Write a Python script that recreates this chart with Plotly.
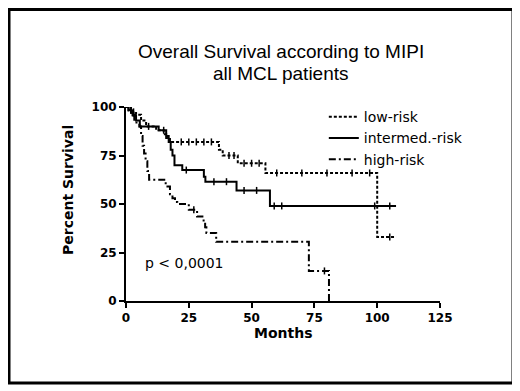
import plotly.graph_objects as go

# ---- data ----
low_t = [0, 2, 4, 6, 8, 12, 15, 16, 17.5, 37, 38.5, 44.5, 55.5, 100, 107.5]
low_s = [100, 97.5, 96, 93, 90, 88, 86, 84, 82, 78, 75, 71, 66, 33, 33]

int_t = [0, 1, 2, 3, 4, 5.5, 13, 16, 17, 17.8, 18.5, 19.3, 22.4, 31, 31.6, 44, 57.3, 107.5]
int_s = [100, 98.5, 97, 95.5, 93, 90, 88, 85, 82, 78, 75, 70, 67.5, 64, 61.5, 57, 49, 49]

hi_t = [0, 1, 3.3, 5.3, 6, 6.6, 7.2, 7.8, 8.5, 9.2, 15.8, 17.5, 18.5, 19.5, 20.4, 25, 28.3, 30.9,
        31.5, 32, 35.9, 72.8, 80.8]
hi_s = [100, 97, 92, 90, 85, 80, 76, 72, 67, 62.5, 59, 55, 53, 51, 50, 47, 43.5, 40.8,
        38, 35, 30.5, 15.5, 0]

low_cens_t = [3, 22, 25, 28, 31, 34, 41, 43, 47, 50, 53, 60, 70, 80, 90, 97, 105]
low_cens_s = [97.5, 82, 82, 82, 82, 82, 75, 75, 71, 71, 71, 66, 66, 66, 66, 66, 33]
int_cens_t = [2.5, 9, 15, 24, 35, 40, 47, 52, 59, 62, 99, 105]
int_cens_s = [97, 90, 88, 67.5, 61.5, 61.5, 57, 57, 49, 49, 49, 49]
hi_cens_t = [27, 79]
hi_cens_s = [47, 15.5]

series = [
    ("low-risk", low_t, low_s, low_cens_t, low_cens_s, "3px,2px"),
    ("intermed.-risk", int_t, int_s, int_cens_t, int_cens_s, "solid"),
    ("high-risk", hi_t, hi_s, hi_cens_t, hi_cens_s, "7px,3px,2px,3px"),
]

FONT = "DejaVu Sans"
TFONT = "Liberation Sans"

fig = go.Figure()
for name, t, s, ct, cs, dash in series:
    fig.add_trace(go.Scatter(
        x=t, y=s, mode="lines", name=name, line_shape="hv",
        line=dict(color="black", width=2, dash=dash), cliponaxis=False,
    ))
    fig.add_trace(go.Scatter(
        x=ct, y=cs, mode="markers", showlegend=False, cliponaxis=False,
        marker=dict(symbol="line-ns", size=5, line=dict(color="black", width=1.5)),
    ))

axis_common = dict(
    showline=True, linecolor="black", linewidth=2, ticks="outside", ticklen=5,
    tickwidth=2, tickcolor="black", showgrid=False, zeroline=False,
    tickfont=dict(family=FONT, size=12, color="black", weight="bold"),
)

fig.update_layout(
    width=512, height=383,
    margin=dict(l=118, r=80, t=99, b=90),
    paper_bgcolor="white", plot_bgcolor="white",
    font=dict(family=FONT, color="black"),
    xaxis=dict(range=[0, 125], tickvals=[0, 25, 50, 75, 100, 125], **axis_common),
    yaxis=dict(range=[0, 100], tickvals=[0, 25, 50, 75, 100], **axis_common),
    showlegend=True,
    legend=dict(x=0.63, y=1.03, xanchor="left", yanchor="top", bgcolor="rgba(0,0,0,0)",
                font=dict(family=FONT, size=14, color="black"),
                tracegroupgap=0, itemwidth=30),
    annotations=[
        dict(text="Overall Survival according to MIPI", xref="paper", yref="paper",
             x=0.4936, y=(301 - 52) / 194, yanchor="middle", showarrow=False,
             font=dict(size=19, family=TFONT)),
        dict(text="all MCL patients", xref="paper", yref="paper",
             x=0.4936, y=(301 - 73) / 194, yanchor="middle", showarrow=False,
             font=dict(size=19, family=TFONT)),
        dict(text="Percent Survival", xref="paper", yref="paper", x=-0.2166, y=0.572,
             textangle=-90, showarrow=False,
             font=dict(size=14, family=FONT, weight="bold")),
        dict(text="Months", xref="paper", yref="paper", x=0.5, y=-0.2165, showarrow=False,
             font=dict(size=14, family=FONT, weight="bold")),
        dict(text="p < 0,0001", xref="paper", yref="paper", x=0.054, y=0.144, xanchor="left",
             showarrow=False, font=dict(size=14, family=FONT)),
    ],
    shapes=[
        dict(type="rect", xref="paper", yref="paper", x0=-0.3726, x1=1.2325, y0=-0.4227,
             y1=(301 - 9.5) / 194, line=dict(color="black", width=3)),
    ],
)

fig.write_html("out.html")
